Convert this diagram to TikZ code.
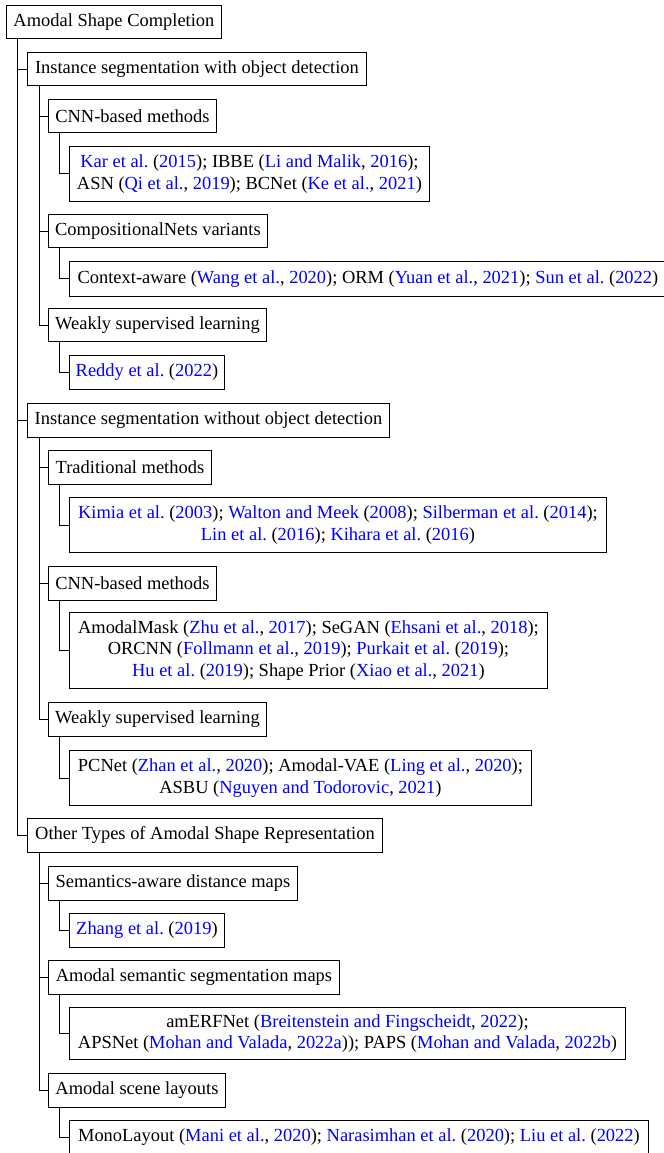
\documentclass[tikz,border=0pt]{standalone}
\usepackage{fontspec}
\setmainfont{Liberation Serif}
\newcommand\bl[1]{\textcolor{blue}{#1}}
\begin{document}
\begin{tikzpicture}[x=0.55pt,y=-0.55pt,
  box/.style={draw, line width=0.5pt, anchor=north west, align=center,
    inner sep=2pt, font=\fontsize{10.15}{11.8}\selectfont\frenchspacing},
  bw/.style={minimum width=#1*0.55pt},
  bh/.style={minimum height=#1*0.55pt},
  link/.style={line width=0.5pt}]
\useasboundingbox (0,0) rectangle (663,1153);
% root
\node[box,bw=215,bh=33.5] (root) at (6,5) {Amodal Shape Completion};
% group A
\node[box,bw=339,bh=33.5] (a) at (27,52) {Instance segmentation with object detection};
\node[box,bw=168,bh=33.5] (a1) at (48,99) {CNN-based methods};
\node[box,bw=360,bh=55] (a1l) at (69,146) {\bl{Kar et al.} (\bl{2015}); IBBE (\bl{Li and Malik}, \bl{2016});\\ASN (\bl{Qi et al.}, \bl{2019}); BCNet (\bl{Ke et al.}, \bl{2021})};
\node[box,bw=219,bh=33.5] (a2) at (48,214) {CompositionalNets variants};
\node[box,bw=597,bh=35] (a2l) at (69,261) {Context-aware (\bl{Wang et al.}, \bl{2020}); ORM (\bl{Yuan et al.}, \bl{2021}); \bl{Sun et al.} (\bl{2022})};
\node[box,bw=218,bh=33.5] (a3) at (48,308) {Weakly supervised learning};
\node[box,bw=155,bh=34] (a3l) at (69,355) {\bl{Reddy et al.} (\bl{2022})};
% group B
\node[box,bw=362,bh=33.5] (b) at (27,403) {Instance segmentation without object detection};
\node[box,bw=163,bh=33.5] (b1) at (48,450) {Traditional methods};
\node[box,bw=537,bh=55] (b1l) at (69,497) {\bl{Kimia et al.} (\bl{2003}); \bl{Walton and Meek} (\bl{2008}); \bl{Silberman et al.} (\bl{2014});\\\bl{Lin et al.} (\bl{2016}); \bl{Kihara et al.} (\bl{2016})};
\node[box,bw=168,bh=33.5] (b2) at (48,566) {CNN-based methods};
\node[box,bw=478,bh=76] (b2l) at (69,612) {AmodalMask (\bl{Zhu et al.}, \bl{2017}); SeGAN (\bl{Ehsani et al.}, \bl{2018});\\ORCNN (\bl{Follmann et al.}, \bl{2019}); \bl{Purkait et al.} (\bl{2019});\\\bl{Hu et al.} (\bl{2019}); Shape Prior (\bl{Xiao et al.}, \bl{2021})};
\node[box,bw=218,bh=33.5] (b3) at (48,702) {Weakly supervised learning};
\node[box,bw=462,bh=55] (b3l) at (69,750) {PCNet (\bl{Zhan et al.}, \bl{2020}); Amodal-VAE (\bl{Ling et al.}, \bl{2020});\\ASBU (\bl{Nguyen and Todorovic}, \bl{2021})};
% group C
\node[box,bw=355,bh=33.5] (c) at (27,818) {Other Types of Amodal Shape Representation};
\node[box,bw=249,bh=33.5] (c1) at (48,866) {Semantics-aware distance maps};
\node[box,bw=155,bh=33.5] (c1l) at (69,913) {\bl{Zhang et al.} (\bl{2019})};
\node[box,bw=291,bh=33.5] (c2) at (48,960) {Amodal semantic segmentation maps};
\node[box,bw=556,bh=52] (c2l) at (69,1007) {amERFNet (\bl{Breitenstein and Fingscheidt}, \bl{2022});\\APSNet (\bl{Mohan and Valada}, \bl{2022a})); PAPS (\bl{Mohan and Valada}, \bl{2022b})};
\node[box,bw=177,bh=33.5] (c3) at (48,1073) {Amodal scene layouts};
\node[box,bw=579,bh=34] (c3l) at (69,1120) {MonoLayout (\bl{Mani et al.}, \bl{2020}); \bl{Narasimhan et al.} (\bl{2020}); \bl{Liu et al.} (\bl{2022})};
% connectors
\foreach \ch in {a,b,c}
  \draw[link] ([xshift=6.2pt]root.south west) |- (\ch.west);
\foreach \p in {a,b,c}{
  \foreach \q in {1,2,3}{
    \draw[link] ([xshift=6.6pt]\p.south west) |- (\p\q.west);
    \draw[link] ([xshift=6.4pt]\p\q.south west) |- (\p\q l.west);
  }
}
\end{tikzpicture}
\end{document}
